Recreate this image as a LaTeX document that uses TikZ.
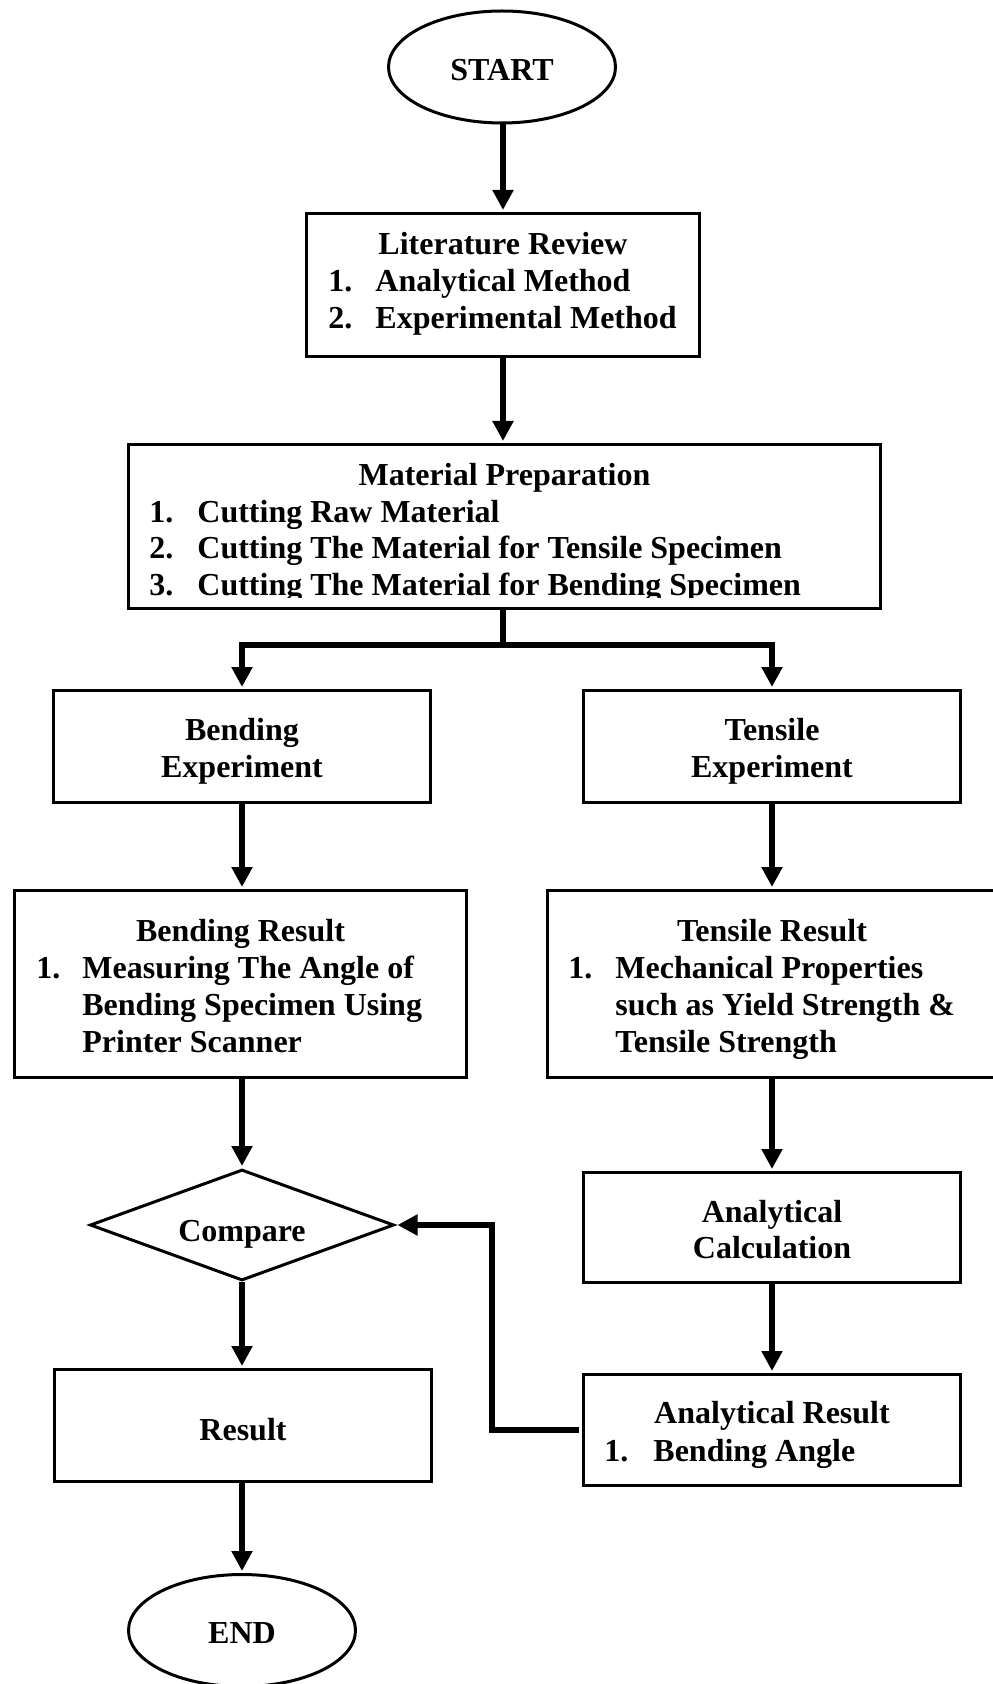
\documentclass[tikz,border=0pt]{standalone}
\usepackage{fontspec}
\setmainfont{Liberation Serif}
\usetikzlibrary{arrows.meta,shapes.geometric}
\begin{document}
\begin{tikzpicture}[x=0.5pt,y=-0.5pt,
  box/.style={draw, line width=1.5pt, rectangle, inner sep=0pt},
  oval/.style={draw, ellipse, line width=1.5pt, inner sep=0pt},
  decision/.style={draw, diamond, line width=1.5pt, inner sep=0pt},
  label/.style={inner sep=0pt, anchor=base, font=\fontsize{16pt}{18pt}\selectfont\bfseries},
  entry/.style={inner sep=0pt, anchor=base west, font=\fontsize{16pt}{18pt}\selectfont\bfseries},
  link/.style={line width=3pt},
  flow/.style={line width=3pt, -{Triangle[length=10pt,width=10pt]}, shorten >=1pt}]
\useasboundingbox (0,0) rectangle (992,1684);

% ---- shapes ----
\node[oval, minimum width=113.5pt, minimum height=56pt] (start) at (502,67) {};
\node[box, minimum width=196.5pt, minimum height=71.5pt] (lit) at (503,285) {};
\node[box, minimum width=376pt, minimum height=82pt] (mat) at (504.5,526.5) {};
\node[box, minimum width=188.5pt, minimum height=56pt] (bexp) at (242,746.5) {};
\node[box, minimum width=188.5pt, minimum height=56pt] (texp) at (772,746.5) {};
\node[box, minimum width=226pt, minimum height=93.5pt] (bres) at (240.5,984) {};
\node[box, minimum width=224.5pt, minimum height=93.5pt] (tres) at (772,984) {};
\node[decision, minimum width=152pt, minimum height=55.5pt] (dia) at (242,1225) {};
\node[box, minimum width=188.5pt, minimum height=55pt] (ac) at (772,1227.5) {};
\node[box, minimum width=188.5pt, minimum height=55.5pt] (ar) at (772,1430) {};
\node[box, minimum width=188.5pt, minimum height=56pt] (res) at (243,1425.5) {};
\node[oval, minimum width=113.5pt, minimum height=56pt] (end) at (242,1630.5) {};

% ---- texts ----
\node[label] (tstart) at (502,81) {START};

\node[label] (tlit) at (503,255) {Literature Review};
\node[entry] (lit1n) at (328,292) {1.};
\node[entry] (lit1) at (375,292) {Analytical Method};
\node[entry] (lit2n) at (328,328.5) {2.};
\node[entry] (lit2) at (375,328.5) {Experimental Method};

\begin{scope}
  \clip (127,443) rectangle (883,597);
  \node[label] (tmat) at (504.5,485) {Material Preparation};
  \node[entry] (mat1n) at (149,522) {1.};
  \node[entry] (mat1) at (197,522) {Cutting Raw Material};
  \node[entry] (mat2n) at (149,558.5) {2.};
  \node[entry] (mat2) at (197,558.5) {Cutting The Material for Tensile Specimen};
  \node[entry] (mat3n) at (149,595) {3.};
  \node[entry] (mat3) at (197,595) {Cutting The Material for Bending Specimen};
\end{scope}

\node[label] (tbexpa) at (242,740) {Bending};
\node[label] (tbexpb) at (242,777) {Experiment};
\node[label] (ttexpa) at (772,740) {Tensile};
\node[label] (ttexpb) at (772,777) {Experiment};

\node[label] (tbres) at (240.5,941) {Bending Result};
\node[entry] (bres1n) at (36,978) {1.};
\node[entry] (bres1) at (82,978) {Measuring The Angle of};
\node[entry] (bres2) at (82,1015) {Bending Specimen Using};
\node[entry] (bres3) at (82,1052) {Printer Scanner};

\node[label] (ttres) at (772,941) {Tensile Result};
\node[entry] (tres1n) at (568,978) {1.};
\node[entry] (tres1) at (615,978) {Mechanical Properties};
\node[entry] (tres2) at (615,1015) {such as Yield Strength \&};
\node[entry] (tres3) at (615,1052) {Tensile Strength};

\node[label] (tdia) at (242,1241) {Compare};

\node[label] (taca) at (772,1222) {Analytical};
\node[label] (tacb) at (772,1258.5) {Calculation};

\node[label] (tar) at (772,1423) {Analytical Result};
\node[entry] (ar1n) at (604,1461) {1.};
\node[entry] (ar1) at (653,1461) {Bending Angle};

\node[label] (tresult) at (243,1440) {Result};
\node[label] (tend) at (242,1643) {END};

% ---- connectors ----
\coordinate (split) at (503,645);
\draw[flow] (lit.north |- start.south) -- (lit.north);
\draw[flow] (lit.south) -- (lit.south |- mat.north);
\draw[link] (split |- mat.south) -- (split);
\draw[flow] (split) -| (bexp.north);
\draw[flow] (split) -| (texp.north);
\draw[flow] (bexp.south) -- (bexp.south |- bres.north);
\draw[flow] (texp) -- (tres);
\draw[flow] (dia.north |- bres.south) -- (dia.north);
\draw[flow] (tres) -- (ac);
\draw[flow] (ac) -- (ar);
\draw[flow] (dia.south) -- (dia.south |- res.north);
\draw[flow] (end.north |- res.south) -- (end.north);
\draw[flow, shorten <=1.5pt] (ar.west) -- ++(-90,0) |- (dia.east);
\end{tikzpicture}
\end{document}
